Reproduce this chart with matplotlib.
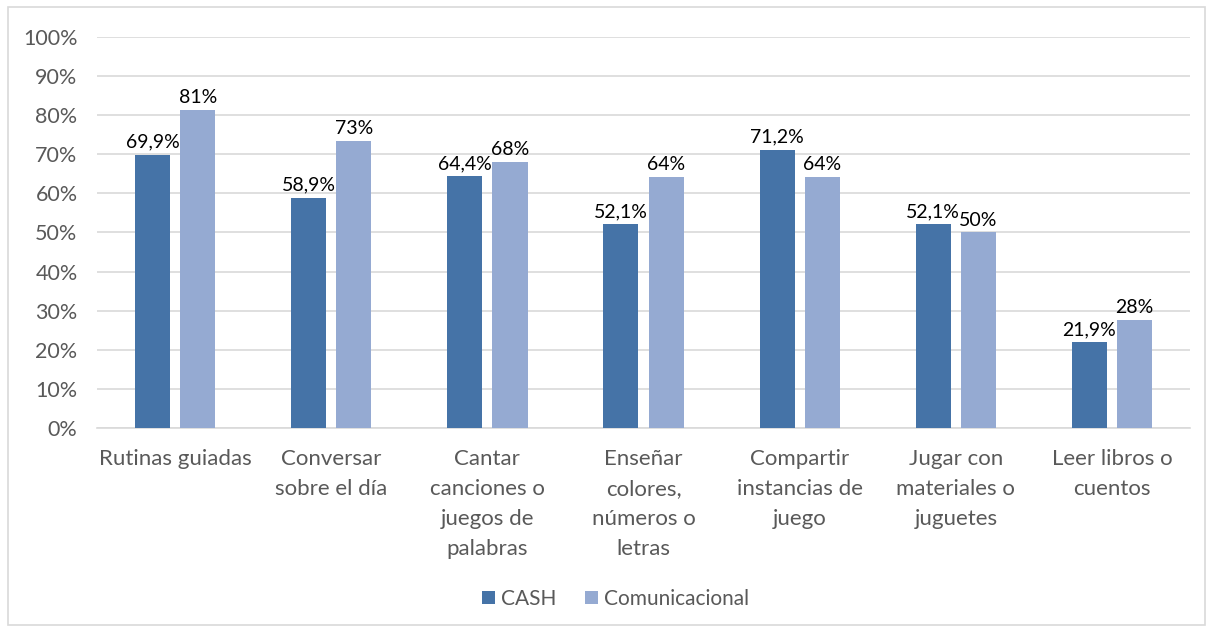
import matplotlib
matplotlib.use("Agg")
import matplotlib.pyplot as plt
from matplotlib.patches import Rectangle
import numpy as np

categories = ["Rutinas guiadas", "Conversar\nsobre el día", "Cantar\ncanciones o\njuegos de\npalabras",
              "Enseñar\ncolores,\nnúmeros o\nletras", "Compartir\ninstancias de\njuego",
              "Jugar con\nmateriales o\njuguetes", "Leer libros o\ncuentos"]
cash = [69.9, 58.9, 64.4, 52.1, 71.2, 52.1, 21.9]
cash_labels = ["69,9%", "58,9%", "64,4%", "52,1%", "71,2%", "52,1%", "21,9%"]
comu = [81.3, 73.3, 68.0, 64.3, 64.3, 50.0, 27.7]
comu_labels = ["81%", "73%", "68%", "64%", "64%", "50%", "28%"]
yticks = [0, 10, 20, 30, 40, 50, 60, 70, 80, 90, 100]
ytick_labels = [f"{v}%" for v in yticks]

plt.rcParams['font.family'] = ['Lato', 'DejaVu Sans']

fig = plt.figure(figsize=(12.12, 6.31), dpi=100)
ax = fig.add_axes([0.080, 0.3217, 0.902, 0.6197])

c1 = "#4573A7"
c2 = "#95AAD2"
x = np.arange(len(categories))
w = 0.225
off = 0.145
b1 = ax.bar(x - off, cash, w, color=c1, label="CASH", zorder=3)
b2 = ax.bar(x + off, comu, w, color=c2, label="Comunicacional", zorder=3)
for rect, lab in zip(b1, cash_labels):
    ax.text(rect.get_x() + rect.get_width() / 2, rect.get_height() + 1.0, lab,
            ha="center", va="bottom", fontsize=14, color="black")
for rect, lab in zip(b2, comu_labels):
    ax.text(rect.get_x() + rect.get_width() / 2, rect.get_height() + 1.0, lab,
            ha="center", va="bottom", fontsize=14, color="black")

ax.set_xlim(-0.5, len(categories) - 0.5)
ax.set_ylim(0, 100)
ax.set_yticks(yticks)
ax.set_yticklabels(ytick_labels)
ax.set_xticks(x)
ax.set_xticklabels(categories, linespacing=1.62, va="top")
ax.tick_params(axis="both", length=0, colors="#595959")
ax.tick_params(axis="x", pad=15, labelsize=16)
ax.tick_params(axis="y", pad=14, labelsize=15.5)
ax.yaxis.grid(True, color="#D9D9D9", linewidth=1.2, zorder=0)
ax.set_axisbelow(True)
for s in ["top", "right", "left"]:
    ax.spines[s].set_visible(False)
ax.spines["bottom"].set_color("#D9D9D9")
ax.spines["bottom"].set_linewidth(1.2)

fig.legend(handles=[b1, b2], labels=["CASH", "Comunicacional"], loc="center",
           bbox_to_anchor=(0.508, 0.051), ncol=2, frameon=False, fontsize=15,
           handlelength=0.6, handleheight=0.6, handletextpad=0.3, columnspacing=1.4,
           labelcolor="#595959")

fig.patches.append(Rectangle((0.007, 0.009), 0.987, 0.98, transform=fig.transFigure,
                             fill=False, edgecolor="#D9D9D9", linewidth=1.2))

fig.savefig("out.png", dpi=100, facecolor="white")
